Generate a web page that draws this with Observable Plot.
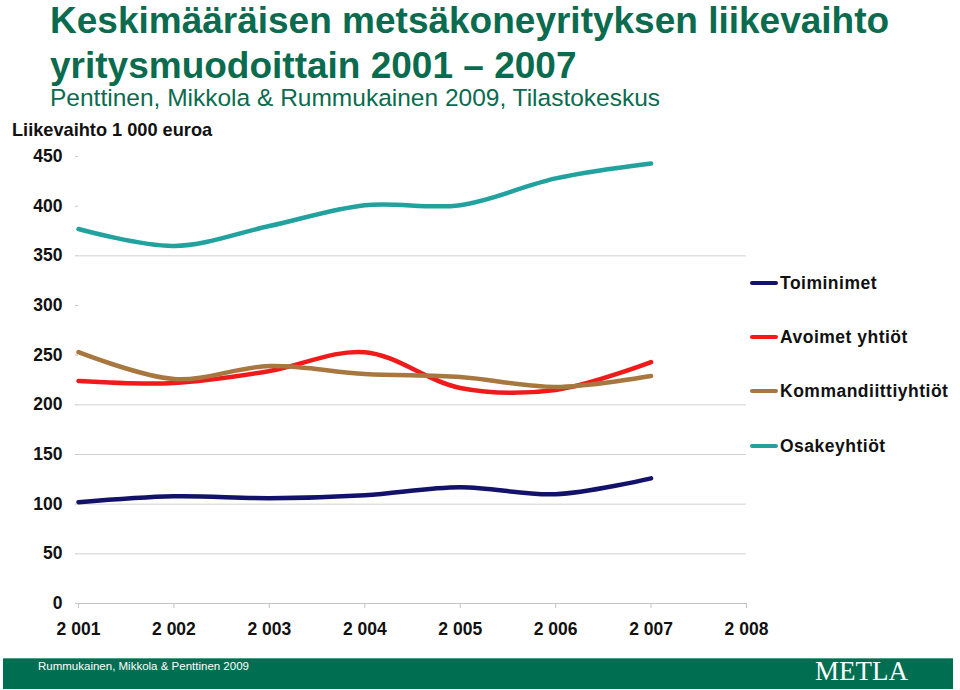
<!DOCTYPE html>
<html><head><meta charset="utf-8">
<script src="https://cdn.jsdelivr.net/npm/d3@7"></script>
<script src="https://cdn.jsdelivr.net/npm/@observablehq/plot@0.6"></script>
<style>
body{margin:0;background:#fff;}
#wrap{position:relative;width:960px;height:690px;overflow:hidden;font-family:"Liberation Sans",Arial,sans-serif;}
.t{position:absolute;left:50px;color:#0a6b4e;white-space:nowrap;line-height:1;}
.t1{font-weight:bold;font-size:37px;}
.t2{font-size:24.5px;}
#ylab{position:absolute;left:12px;top:121px;font-size:18.2px;font-weight:bold;color:#111;line-height:1;white-space:nowrap;}
#chart{position:absolute;left:0;top:120px;}
#legend{position:absolute;left:750px;top:0;}
.li{position:absolute;left:0;height:20px;display:flex;align-items:center;white-space:nowrap;font-size:17.5px;font-weight:bold;color:#111;letter-spacing:0.5px;}
.li span.sw{display:inline-block;width:28px;height:4.5px;border-radius:2px;margin-right:2px;}
#band{position:absolute;left:3px;top:658px;width:950px;height:30px;background:#006e51;border-top:1px solid #4f9f84;}
#foot{position:absolute;left:38px;top:661px;font-size:11.5px;color:#fff;line-height:1;white-space:nowrap;}
#logo{position:absolute;left:815px;top:658px;font-family:"Liberation Serif","Times New Roman",serif;font-size:27px;color:#fff;line-height:1;}
</style></head>
<body><div id="wrap">
<div class="t t1" style="top:2px">Keskimääräisen metsäkoneyrityksen liikevaihto</div>
<div class="t t1" style="top:47px">yritysmuodoittain 2001 – 2007</div>
<div class="t t2" style="top:86px">Penttinen, Mikkola &amp; Rummukainen 2009, Tilastokeskus</div>
<div id="ylab">Liikevaihto 1 000 euroa</div>
<div id="chart"></div>
<div id="legend"></div>
<div id="band"></div>
<div id="foot">Rummukainen, Mikkola &amp; Penttinen 2009</div>
<div id="logo">METLA</div>
</div>
<script>
const years = [2001, 2002, 2003, 2004, 2005, 2006, 2007];
const xTicks = [2001, 2002, 2003, 2004, 2005, 2006, 2007, 2008];
const yTicks = [0, 50, 100, 150, 200, 250, 300, 350, 400, 450];
const gridValues = [50, 100, 150, 200, 350];
const seriesNames = ["Toiminimet", "Avoimet yhtiöt", "Kommandiittiyhtiöt", "Osakeyhtiöt"];
const seriesColors = ["#12126a", "#f01a1a", "#a7773f", "#22a29f"];
const toiminimet = [102, 108, 106, 109, 117, 110, 126];
const avoimet = [224, 222, 234, 253, 217, 215, 243];
const kommandiitti = [253, 226, 239, 231, 228, 218, 229];
const osakeyhtiot = [377, 360, 380, 401, 401, 428, 443];
const legendY = [283, 337, 391, 446];

const seriesValues = [toiminimet, avoimet, kommandiitti, osakeyhtiot];
const data = [];
seriesNames.forEach((s, i) => years.forEach((y, j) => data.push({series: s, year: y, value: seriesValues[i][j]})));

const loc = d3.formatLocale({decimal: ",", thousands: " ", grouping: [3], currency: ["", "€"]});
const fmt = loc.format(",d");

const plot = Plot.plot({
  width: 760, height: 530,
  marginLeft: 78, marginRight: 14, marginTop: 36, marginBottom: 47,
  x: {domain: [2001, 2008]},
  y: {domain: [0, 450]},
  color: {domain: seriesNames, range: seriesColors},
  style: {fontFamily: "Liberation Sans, Arial, sans-serif", fontSize: "17.5px", fontWeight: "bold", color: "#111", background: "transparent", overflow: "visible"},
  marks: [
    Plot.ruleY(gridValues, {stroke: "#d2d2d2", strokeWidth: 1}),
    Plot.ruleY([0], {stroke: "#c4c4c4", strokeWidth: 1}),
    Plot.axisY({ticks: yTicks, tickSize: 3, tickPadding: 13, label: null, stroke: "#c8c8c8"}),
    Plot.axisX({ticks: xTicks, tickSize: 5, tickPadding: 14, tickFormat: fmt, label: null, stroke: "#c4c4c4"}),
    Plot.line(data, {x: "year", y: "value", z: "series", stroke: "series", strokeWidth: 4.5, curve: "catmull-rom", strokeLinecap: "round"})
  ]
});
document.getElementById("chart").appendChild(plot);

const leg = document.getElementById("legend");
seriesNames.forEach((s, i) => {
  const row = document.createElement("div");
  row.className = "li";
  row.style.top = (legendY[i] - 10) + "px";
  const sw = document.createElement("span");
  sw.className = "sw";
  sw.style.background = seriesColors[i];
  row.appendChild(sw);
  row.appendChild(document.createTextNode(s));
  leg.appendChild(row);
});
</script>
</body></html>
